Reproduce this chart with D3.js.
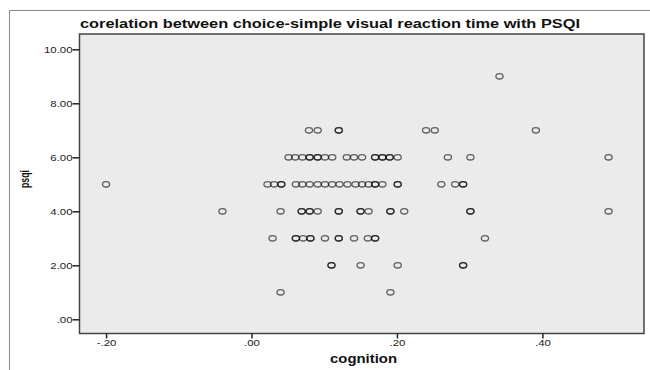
<!DOCTYPE html>
<html>
<head>
<meta charset="utf-8">
<script src="https://cdn.jsdelivr.net/npm/d3@7"></script>
<style>
  body { margin: 0; background: #fff; }
  text { font-family: 'Liberation Sans', Arial, sans-serif; }
</style>
</head>
<body>
<script>
// cognition (x) and psqi (y); repeated pairs are overlapping cases
const cognition = [
  -0.200, -0.040,
  0.079, 0.091, 0.120, 0.120, 0.240, 0.252, 0.341, 0.391,
  0.051, 0.060, 0.070, 0.080, 0.080, 0.091, 0.091, 0.101, 0.111, 0.131, 0.141, 0.152,
  0.170, 0.170, 0.180, 0.180, 0.190, 0.190, 0.201, 0.270, 0.301, 0.491,
  0.022, 0.031, 0.041, 0.041, 0.061, 0.070, 0.080, 0.091, 0.101, 0.111, 0.121, 0.132,
  0.143, 0.152, 0.161, 0.170, 0.170, 0.180, 0.201, 0.201, 0.261, 0.280, 0.291, 0.291,
  0.040, 0.069, 0.069, 0.080, 0.080, 0.091, 0.120, 0.120, 0.150, 0.150, 0.161,
  0.191, 0.191, 0.210, 0.301, 0.301, 0.491,
  0.029, 0.061, 0.061, 0.071, 0.081, 0.081, 0.101, 0.120, 0.120, 0.141, 0.160,
  0.170, 0.170, 0.321,
  0.110, 0.110, 0.150, 0.201, 0.291, 0.291,
  0.040, 0.191
];
const psqi = [
  5, 4,
  7, 7, 7, 7, 7, 7, 9, 7,
  6, 6, 6, 6, 6, 6, 6, 6, 6, 6, 6, 6,
  6, 6, 6, 6, 6, 6, 6, 6, 6, 6,
  5, 5, 5, 5, 5, 5, 5, 5, 5, 5, 5, 5,
  5, 5, 5, 5, 5, 5, 5, 5, 5, 5, 5, 5,
  4, 4, 4, 4, 4, 4, 4, 4, 4, 4, 4,
  4, 4, 4, 4, 4, 4,
  3, 3, 3, 3, 3, 3, 3, 3, 3, 3, 3,
  3, 3, 3,
  2, 2, 2, 2, 2, 2,
  1, 1
];
const xTicks = [-0.2, 0, 0.2, 0.4];
const yTicks = [0, 2, 4, 6, 8, 10];

const width = 650, height = 370;
const plot = { left: 79.5, right: 644, top: 34, bottom: 333.5 };
const stretch = 1.2; // the source picture is widened horizontally

const svg = d3.select('body')
  .append('svg')
  .attr('width', width)
  .attr('height', height);

// outer frame (left and top edges visible)
svg.append('path')
  .attr('d', `M9.5,${height} V10.5 H${width}`)
  .attr('fill', 'none')
  .attr('stroke', '#888')
  .attr('stroke-width', 1);

const x = d3.scaleLinear()
  .domain([-0.2365, 0.5397])
  .range([plot.left, plot.right]);

const y = d3.scaleLinear()
  .domain([0, 10])
  .range([319.3, 49.3]);

svg.append('rect')
  .attr('x', plot.left)
  .attr('y', plot.top)
  .attr('width', plot.right - plot.left)
  .attr('height', plot.bottom - plot.top)
  .attr('fill', '#ebebeb')
  .attr('stroke', '#444')
  .attr('stroke-width', 1.5);

const fmt = d => {
  const s = Math.abs(d).toFixed(2).replace(/^0\./, '.');
  return d < 0 ? '-' + s : s;
};

function widen(sel) {
  sel.each(function () {
    const w = this.getComputedTextLength();
    d3.select(this)
      .attr('textLength', w * stretch)
      .attr('lengthAdjust', 'spacingAndGlyphs');
  });
}

svg.append('g')
  .attr('transform', `translate(0, ${plot.bottom})`)
  .call(d3.axisBottom(x).tickValues(xTicks).tickSize(5).tickPadding(1).tickFormat(fmt))
  .call(g => g.select('.domain').remove())
  .call(g => g.selectAll('line').attr('stroke', '#222').attr('stroke-width', 1.5))
  .call(g => g.selectAll('text').attr('font-size', 9.5).attr('fill', '#222')
    .attr('font-family', "'Liberation Sans', Arial, sans-serif").call(widen));

svg.append('g')
  .attr('transform', `translate(${plot.left}, 0)`)
  .call(d3.axisLeft(y).tickValues(yTicks).tickSize(7).tickPadding(0).tickFormat(fmt))
  .call(g => g.select('.domain').remove())
  .call(g => g.selectAll('line').attr('stroke', '#222').attr('stroke-width', 1.5))
  .call(g => g.selectAll('text').attr('font-size', 9.5).attr('fill', '#222')
    .attr('font-family', "'Liberation Sans', Arial, sans-serif").call(widen));

svg.append('text')
  .attr('x', 80)
  .attr('y', 28)
  .attr('font-size', 13)
  .attr('font-weight', 'bold')
  .attr('fill', '#111')
  .attr('textLength', 500)
  .attr('lengthAdjust', 'spacingAndGlyphs')
  .text('corelation between choice-simple visual reaction time with PSQI');

svg.append('text')
  .attr('x', 330)
  .attr('y', 363)
  .attr('font-size', 12)
  .attr('font-weight', 'bold')
  .attr('fill', '#111')
  .attr('textLength', 67)
  .attr('lengthAdjust', 'spacingAndGlyphs')
  .text('cognition');

svg.append('text')
  .attr('transform', `translate(29, 179) rotate(-90)`)
  .attr('text-anchor', 'middle')
  .attr('font-size', 12.5)
  .attr('font-weight', 'bold')
  .attr('fill', '#111')
  .attr('textLength', 18)
  .attr('lengthAdjust', 'spacingAndGlyphs')
  .text('psqi');

svg.append('g')
  .selectAll('ellipse')
  .data(d3.range(cognition.length))
  .join('ellipse')
  .attr('cx', i => x(cognition[i]))
  .attr('cy', i => y(psqi[i]))
  .attr('rx', 3.6)
  .attr('ry', 2.7)
  .attr('fill', 'none')
  .attr('stroke', '#000')
  .attr('stroke-opacity', 0.6)
  .attr('stroke-width', 1.3);
</script>
</body>
</html>
